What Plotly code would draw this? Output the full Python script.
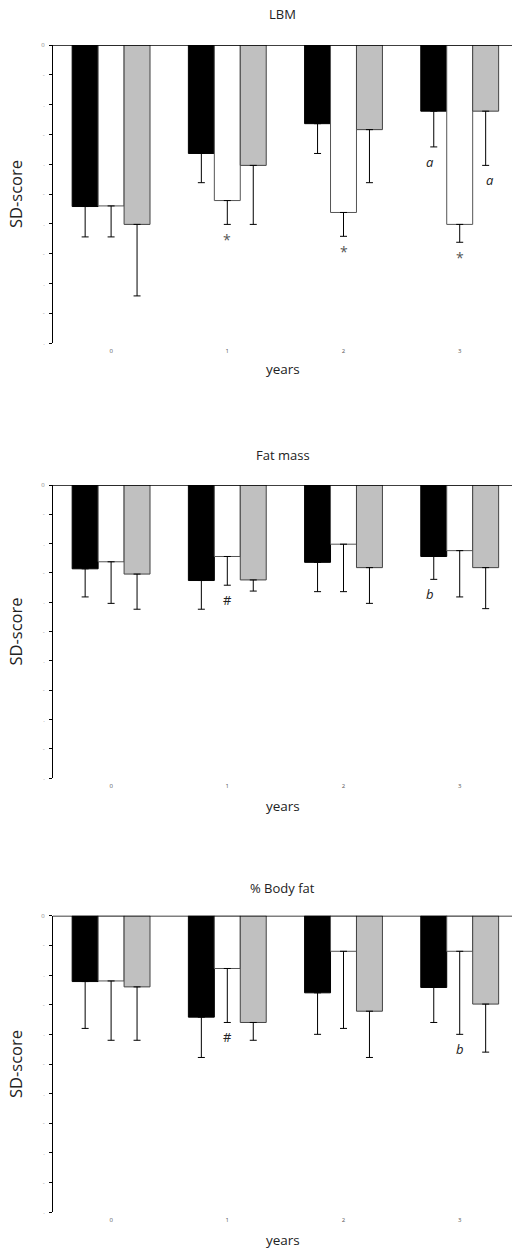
import plotly.graph_objects as go

years = ["0", "1", "2", "3"]
panel_titles = ["LBM", "Fat mass", "% Body fat"]
series_names = ["Group 1", "Group 2", "Group 3"]

# mean SD-scores (negative) per panel, per series, per year
lbm_black = [-2.71, -1.82, -1.32, -1.11]
lbm_white = [-2.70, -2.61, -2.81, -3.01]
lbm_gray = [-3.01, -2.02, -1.42, -1.11]
lbm_black_err = [0.51, 0.49, 0.50, 0.60]
lbm_white_err = [0.52, 0.40, 0.40, 0.30]
lbm_gray_err = [1.20, 0.99, 0.89, 0.91]

fat_black = [-1.43, -1.63, -1.32, -1.22]
fat_white = [-1.31, -1.22, -1.01, -1.12]
fat_gray = [-1.52, -1.62, -1.41, -1.41]
fat_black_err = [0.48, 0.49, 0.50, 0.39]
fat_white_err = [0.71, 0.49, 0.81, 0.79]
fat_gray_err = [0.60, 0.19, 0.61, 0.70]

pbf_black = [-1.11, -1.71, -1.30, -1.21]
pbf_white = [-1.10, -0.89, -0.60, -0.60]
pbf_gray = [-1.20, -1.80, -1.61, -1.49]
pbf_black_err = [0.79, 0.68, 0.70, 0.59]
pbf_white_err = [1.00, 0.91, 1.30, 1.40]
pbf_gray_err = [0.90, 0.30, 0.78, 0.81]

# significance marks: (panel index, series index, year index, symbol, italic)
marks = [
    (0, 1, 1, "*", False), (0, 1, 2, "*", False), (0, 1, 3, "*", False),
    (0, 0, 3, "a", True), (0, 2, 3, "a", True),
    (1, 1, 1, "#", False), (1, 0, 3, "b", True),
    (2, 1, 1, "#", False), (2, 1, 3, "b", True),
]

y_ticks = [0, -0.5, -1, -1.5, -2, -2.5, -3, -3.5, -4, -4.5, -5]
y_ticktext = ["0", "-", ".", "-", ".", "-", ".", "-", ".", "-", "."]

panels = [
    ([lbm_black, lbm_white, lbm_gray], [lbm_black_err, lbm_white_err, lbm_gray_err]),
    ([fat_black, fat_white, fat_gray], [fat_black_err, fat_white_err, fat_gray_err]),
    ([pbf_black, pbf_white, pbf_gray], [pbf_black_err, pbf_white_err, pbf_gray_err]),
]

W, H = 512, 1249
ML = 30  # left margin in px
PW = W - ML
# pixel extents of the plot areas (top, bottom)
px_tops = [45, 485, 915.7]
px_bottoms = [343, 778, 1212.3]
title_px = [14, 455, 888]
years_px = [369, 806, 1240]
x_left = 53


def px_x(px):
    return (px - ML) / PW


fills = ["#000000", "#ffffff", "#c0c0c0"]
outlines = ["#000000", "#555555", "#444444"]

FONT = "Open Sans"
fig = go.Figure()
layout = dict(
    width=W, height=H, margin=dict(l=ML, r=0, t=0, b=0, autoexpand=False),
    paper_bgcolor="white", plot_bgcolor="white",
    showlegend=False, barmode="group", bargap=0.33, bargroupgap=0,
    font=dict(family=FONT, color="#222"),
)
annotations = []
shapes = []

for p, (means, errs) in enumerate(panels):
    xa = "x" if p == 0 else f"x{p+1}"
    ya = "y" if p == 0 else f"y{p+1}"
    for s in range(3):
        fig.add_trace(go.Bar(
            x=years, y=means[s], name=series_names[s],
            xaxis=xa, yaxis=ya,
            marker=dict(color=fills[s], line=dict(color=outlines[s], width=1)),
            error_y=dict(type="data", symmetric=False,
                         array=[0] * len(years), arrayminus=errs[s],
                         color="black", thickness=1, width=3.5),
        ))
    dom = [1 - px_bottoms[p] / H, 1 - px_tops[p] / H]
    layout["xaxis" if p == 0 else f"xaxis{p+1}"] = dict(
        domain=[px_x(x_left), 1], anchor=ya, range=[-0.5, 3.45],
        showline=False, ticks="", showgrid=False, zeroline=False,
        tickfont=dict(size=6, color="#555"), ticklabelstandoff=3,
        automargin=False,
    )
    layout["yaxis" if p == 0 else f"yaxis{p+1}"] = dict(
        domain=dom, anchor=xa, range=[-5, 0],
        showline=True, linecolor="black", linewidth=1,
        ticks="outside", ticklen=3, tickcolor="black", tickwidth=1,
        tickvals=y_ticks, ticktext=y_ticktext,
        tickfont=dict(size=6, color="#888"), ticklabelstandoff=3,
        showgrid=False, zeroline=False, automargin=False,
    )
    # zero reference line across the top
    shapes.append(dict(type="line", xref=f"{xa} domain", yref=ya,
                       x0=0, x1=1, y0=0, y1=0,
                       line=dict(color="black", width=1.5)))
    annotations.append(dict(text=panel_titles[p], xref="paper", yref="paper",
                            x=px_x((x_left + W) / 2), y=1 - title_px[p] / H,
                            xanchor="center", yanchor="middle",
                            showarrow=False, font=dict(size=13, family=FONT, color="#222")))
    annotations.append(dict(text="years", xref="paper", yref="paper",
                            x=px_x((x_left + W) / 2), y=1 - years_px[p] / H,
                            xanchor="center", yanchor="middle",
                            showarrow=False, font=dict(size=13.5, family=FONT, color="#222")))
    annotations.append(dict(text="SD-score", xref="paper", yref="paper",
                            x=px_x(15), y=1 - (px_tops[p] + px_bottoms[p]) / 2 / H,
                            xanchor="center", yanchor="middle",
                            textangle=-90, showarrow=False,
                            font=dict(size=16.5, family=FONT, color="#222")))

offsets = [-0.26, 0.0, 0.26]
for (p, s, yi, sym, ital) in marks:
    means, errs = panels[p]
    xa = "x" if p == 0 else f"x{p+1}"
    ya = "y" if p == 0 else f"y{p+1}"
    yv = means[s][yi] - errs[s][yi]
    txt = f"<i>{sym}</i>" if ital else sym
    annotations.append(dict(text=txt, xref=xa, yref=ya, x=yi + offsets[s], y=yv,
                            xanchor="center", yanchor="top", yshift=-4, showarrow=False,
                            font=dict(size=13 if sym != "*" else 14, family=FONT,
                                      color="#222" if sym != "*" else "#555")))

layout["annotations"] = annotations
layout["shapes"] = shapes
fig.update_layout(**layout)
fig.write_html("out.html", config={"displayModeBar": False},
               post_script="document.body.style.margin='0';document.body.style.overflow='hidden';")
